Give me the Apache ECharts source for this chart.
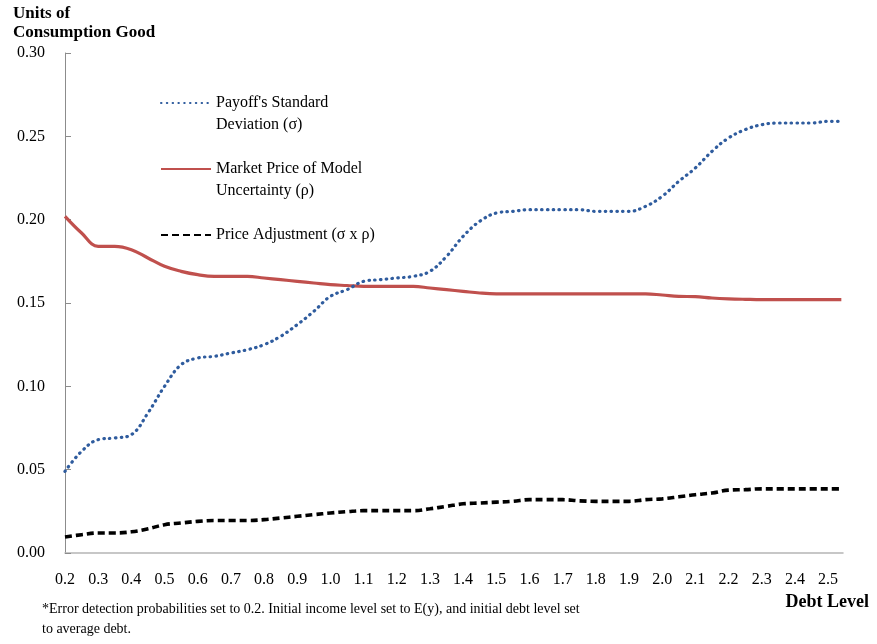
<!DOCTYPE html>
<html>
<head>
    <meta charset="utf-8">
    <title>Debt Level</title>
    <script src="https://cdn.jsdelivr.net/npm/echarts@6/dist/echarts.min.js"></script>
    <style>
        html, body { margin: 0; padding: 0; background: #fff; }
        #main { width: 877px; height: 644px; }
    </style>
</head>
<body>
<div id="main"></div>
<script type="text/javascript">
    // debt level grid (x), every 0.05
    var debt = [0.2, 0.25, 0.3, 0.35, 0.4, 0.45, 0.5, 0.55, 0.6, 0.65, 0.7, 0.75, 0.8, 0.85, 0.9, 0.95,
        1.0, 1.05, 1.1, 1.15, 1.2, 1.25, 1.3, 1.35, 1.4, 1.45, 1.5, 1.55, 1.6, 1.65, 1.7, 1.75,
        1.8, 1.85, 1.9, 1.95, 2.0, 2.05, 2.1, 2.15, 2.2, 2.25, 2.3, 2.35, 2.4, 2.45, 2.5, 2.54];

    // payoff's standard deviation (sigma)
    var sigma = [0.049, 0.061, 0.068, 0.069, 0.071, 0.084, 0.100, 0.113, 0.117, 0.118, 0.120, 0.122, 0.125, 0.130, 0.137, 0.145,
        0.154, 0.158, 0.163, 0.164, 0.165, 0.166, 0.169, 0.178, 0.190, 0.199, 0.204, 0.205, 0.206, 0.206, 0.206, 0.206,
        0.205, 0.205, 0.205, 0.208, 0.214, 0.223, 0.231, 0.241, 0.249, 0.254, 0.257, 0.258, 0.258, 0.258, 0.259, 0.259];

    // market price of model uncertainty (rho)
    var rho = [0.202, 0.192, 0.184, 0.184, 0.182, 0.177, 0.172, 0.169, 0.167, 0.166, 0.166, 0.166, 0.165, 0.164, 0.163, 0.162,
        0.161, 0.1605, 0.160, 0.160, 0.160, 0.160, 0.159, 0.158, 0.157, 0.156, 0.1555, 0.1555, 0.1555, 0.1555, 0.1555, 0.1555,
        0.1555, 0.1555, 0.1555, 0.1555, 0.1548, 0.154, 0.1538, 0.153, 0.1525, 0.1522, 0.152, 0.152, 0.152, 0.152, 0.152, 0.152];

    // price adjustment (sigma x rho)
    var adjust = [0.0096, 0.011, 0.012, 0.012, 0.0127, 0.0145, 0.017, 0.018, 0.019, 0.0195, 0.0195, 0.0195, 0.020, 0.021, 0.022, 0.023,
        0.024, 0.0248, 0.0254, 0.0254, 0.0254, 0.0254, 0.0265, 0.028, 0.0295, 0.030, 0.0305, 0.031, 0.032, 0.032, 0.032, 0.0313,
        0.031, 0.031, 0.031, 0.032, 0.0325, 0.0337, 0.035, 0.036, 0.0377, 0.038, 0.0385, 0.0385, 0.0385, 0.0385, 0.0385, 0.0385];

    var seriesNames = ["Payoff's Standard\nDeviation (σ)", "Market Price of Model\nUncertainty (ρ)", "Price Adjustment (σ x ρ)"];

    function pairs(ys) {
        var out = [];
        for (var i = 0; i < debt.length; i++) {
            out.push([debt[i], ys[i]]);
        }
        return out;
    }

    var font = 'Liberation Serif';
    var myChart = echarts.init(document.getElementById('main'));

    myChart.setOption({
        animation: false,
        textStyle: { fontFamily: font, color: '#000' },
        title: [
            {
                text: 'Units of\nConsumption Good',
                left: 8, top: -1,
                textStyle: { fontFamily: font, fontWeight: 'bold', fontSize: 17, lineHeight: 19, color: '#000' }
            },
            {
                text: 'Debt Level',
                right: 3, top: 588,
                textStyle: { fontFamily: font, fontWeight: 'bold', fontSize: 18, color: '#000' }
            },
            {
                text: '*Error detection probabilities set to 0.2. Initial income level set to E(y), and initial debt level set\nto average debt.',
                left: 37, top: 594,
                textStyle: { fontFamily: font, fontWeight: 'normal', fontSize: 14, lineHeight: 20, color: '#000' }
            }
        ],
        legend: {
            orient: 'vertical',
            left: 155,
            top: 65,
            itemWidth: 50,
            itemHeight: 12,
            itemGap: 0,
            itemStyle: { opacity: 0 },
            textStyle: { fontFamily: font, fontSize: 16, lineHeight: 22, color: '#000' },
            // blank first line keeps the icon level with the first text line
            formatter: function (name) {
                return name.indexOf('\n') >= 0 ? ' \n' + name : ' \n' + name + '\n ';
            },
            data: seriesNames
        },
        grid: { left: 65, right: 34, top: 53, bottom: 91 },
        xAxis: {
            type: 'value',
            min: 0.2,
            max: 2.545,
            interval: 0.1,
            splitLine: { show: false },
            axisTick: { show: false },
            axisLine: { lineStyle: { color: '#b5b5b5', width: 1.5 } },
            axisLabel: {
                showMaxLabel: false,
                margin: 19,
                fontFamily: font,
                fontSize: 16,
                color: '#000',
                formatter: function (v) { return v.toFixed(1); }
            }
        },
        yAxis: {
            type: 'value',
            min: 0,
            max: 0.3,
            interval: 0.05,
            splitLine: { show: false },
            axisLine: { show: true, lineStyle: { color: '#8c8c8c', width: 1 } },
            axisTick: { show: true, inside: true, length: 6, lineStyle: { color: '#8c8c8c' } },
            axisLabel: {
                margin: 20,
                fontFamily: font,
                fontSize: 16,
                color: '#000',
                formatter: function (v) { return v.toFixed(2); }
            }
        },
        series: [
            {
                name: seriesNames[0],
                type: 'line',
                smooth: 0.4,
                showSymbol: false,
                symbol: 'none',
                data: pairs(sigma),
                itemStyle: { color: '#2F5C9E' },
                lineStyle: { color: '#2F5C9E', width: 3.2, type: [0.5, 5.3], cap: 'round' },
                z: 3
            },
            {
                name: seriesNames[1],
                type: 'line',
                smooth: 0.4,
                showSymbol: false,
                symbol: 'none',
                data: pairs(rho),
                itemStyle: { color: '#C0504D' },
                lineStyle: { color: '#C0504D', width: 3.2, type: 'solid' },
                z: 2
            },
            {
                name: seriesNames[2],
                type: 'line',
                smooth: 0.4,
                showSymbol: false,
                symbol: 'none',
                data: pairs(adjust),
                itemStyle: { color: '#000' },
                lineStyle: { color: '#000', width: 3.6, type: [7, 4] },
                z: 4
            }
        ]
    });
</script>
</body>
</html>
